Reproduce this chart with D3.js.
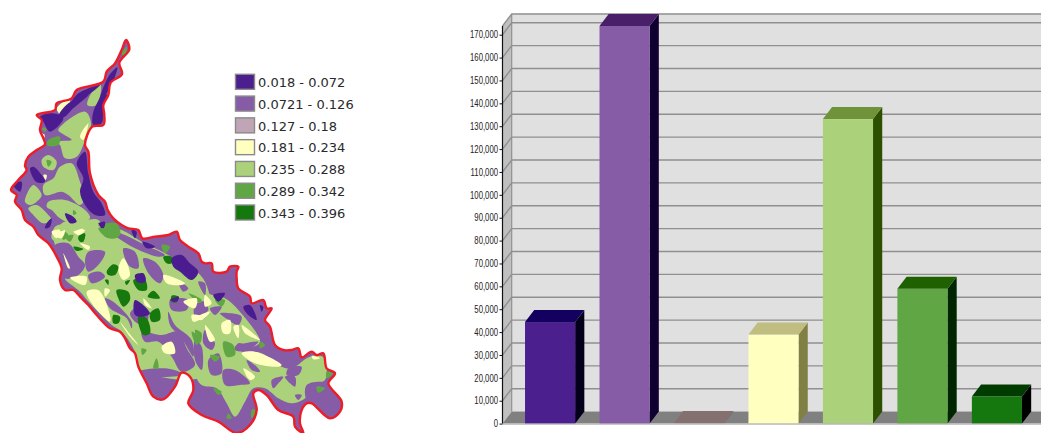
<!DOCTYPE html>
<html>
<head>
<meta charset="utf-8">
<script src="https://cdn.jsdelivr.net/npm/d3@7"></script>
<style>
html,body{margin:0;padding:0;background:#fff;overflow:hidden}
svg{display:block}
.legend-label{font:13px "DejaVu Sans",sans-serif;fill:#2a2a2a}
.tick text{font:10.2px "Liberation Sans",sans-serif;fill:#222}
</style>
</head>
<body>
<svg id="chart" width="1041" height="433"></svg>
<script>
// Index classes and the area mapped in each class
const classLabels = ["0.018 - 0.072","0.0721 - 0.126","0.127 - 0.18","0.181 - 0.234","0.235 - 0.288","0.289 - 0.342","0.343 - 0.396"];
const classAreas = [44400,173800,300,38900,133100,58900,11800];
const classColors = ["#4c1f8f","#875ca6","#bfa5b5","#ffffbf","#abd27a","#61a644","#15780f"];
const barTopColors = ["#14005f","#4a1f6a","#857070","#bfbe80","#6f9338","#1f6000","#003c00"];
const barSideColors = ["#04001b","#0f0030","#6a5a5a","#808045","#2d5000","#002600","#000000"];
const yTicks = [0,10000,20000,30000,40000,50000,60000,70000,80000,90000,100000,110000,120000,130000,140000,150000,160000,170000];
const yAxisTop = 173800;

// Map sheets: each holds 3 units per screen pixel from its own origin
const sheet = (x0, y0) => {
  const sx = d3.scaleLinear().domain([0,3]).range([x0,x0+1]);
  const sy = d3.scaleLinear().domain([0,3]).range([y0,y0+1]);
  return p => [sx(p[0]), sy(p[1])];
};
const sheetTop = sheet(0,30), sheetWest = sheet(5,95), sheetMid = sheet(55,225), sheetEast = sheet(195,270), sheetSouth = sheet(0,220);

// Catchment boundary, clockwise from the northern tip
const boundaryRuns = [
  [sheetTop,[[378,30],[388,58],[358,98],[366,132],[332,158]]],
  [sheetWest,[[310,0],[295,30],[298,60],[295,90],[262,95],[240,150],[250,170],[255,235],[280,300],[300,320],[308,345],[325,370]]],
  [sheetMid,[[200,0],[220,10],[250,15],[262,40],[300,35],[340,30],[365,20],[375,45],[400,65],[430,85],[440,110],[450,115]]],
  [sheetSouth,[[635,130],[640,155],[680,155],[690,140],[715,140],[710,155]]],
  [sheetEast,[[125,25],[130,55],[165,80],[170,100],[205,90],[215,115],[230,115],[210,150],[225,170],[240,225],[265,240],[290,240],[310,235],[320,262],[350,245],[365,255],[385,250],[395,295],[420,310],[400,340],[440,395],[435,425],[405,445],[350,400],[335,400],[320,420],[315,460],[325,489],[300,470],[295,440],[250,420],[215,375],[190,360],[175,370],[185,420],[165,465],[125,489],[70,455],[20,435]]],
  [sheetSouth,[[565,550],[580,510],[570,470],[545,458],[525,500],[490,538],[460,530],[440,490]]],
  [sheetMid,[[250,425],[240,385],[225,370],[210,340],[195,320],[165,310],[125,270],[100,240],[75,215],[55,195],[30,195],[15,165],[20,130],[5,95]]],
  [sheetWest,[[130,445],[100,420],[85,395],[60,375],[50,345],[30,320],[35,300],[18,285],[40,255],[65,225],[60,212],[70,185],[95,165],[120,148],[115,130],[105,105],[110,75],[95,60],[150,45],[155,25],[200,10]]],
  [sheetTop,[[230,180],[310,155],[320,125],[345,100],[365,60]]]
];

// Class polygons, per sheet
const topGreen = [[[280,180],[302,165],[290,225],[262,225]]];
const topMidGreen = [[[365,70],[380,50],[375,80]]];
const topDarkPurple = [
  [[300,200],[325,140],[352,112],[345,140],[320,190],[290,230]],
  [[235,190],[300,165],[250,205],[210,225]]
];
const westGreen = [
  [[160,105],[240,50],[258,85],[235,150],[215,185],[180,190],[165,150],[155,140],[200,135],[175,118]],
  [[110,195],[130,180],[155,200],[145,225],[115,215]],
  [[165,215],[200,205],[225,260],[240,310],[225,330],[190,300],[170,290],[120,300],[115,270],[145,250]],
  [[60,320],[85,270],[110,300],[95,320],[75,330]],
  [[130,320],[180,315],[240,345],[255,370],[200,385],[165,370],[140,345],[125,335]],
  [[70,340],[95,330],[130,360],[140,375],[115,385],[85,360]],
  [[170,385],[240,375],[280,375],[300,420],[250,450],[210,440],[170,420]],
  [[150,400],[190,410],[170,445],[140,430]]
];
const westMidGreen = [
  [[130,135],[165,125],[160,150],[125,150]],
  [[125,195],[140,200],[130,215]],
  [[295,390],[335,385],[345,420],[300,425]],
  [[170,405],[190,420],[175,435]],
  [[205,345],[215,355],[205,360]],
  [[110,100],[125,100],[120,110]]
];
const westYellow = [
  [[155,40],[195,12],[175,65]],
  [[225,125],[250,85],[235,135]],
  [[115,240],[125,240],[122,255]],
  [[105,115],[118,118],[118,128]],
  [[140,410],[165,405],[155,430]],
  [[205,410],[240,405],[225,420]]
];
const westDarkGreen = [[[222,425],[240,420],[235,435],[222,435]]];
const westDarkPurple = [
  [[215,205],[240,170],[250,235],[265,290],[290,325],[300,360],[270,360],[240,330],[225,290],[235,250]],
  [[180,355],[205,365],[215,380],[195,385]],
  [[125,385],[140,370],[135,395],[120,400]],
  [[85,215],[110,240],[120,260],[95,262],[75,220]],
  [[25,270],[50,260],[45,290]],
  [[280,385],[300,380],[295,400]],
  [[105,65],[145,55],[175,70],[135,110],[115,80]],
  [[160,65],[190,25],[250,0],[205,40],[175,68]],
  [[265,50],[295,0],[308,0],[295,40],[290,85],[265,90]]
];
const midGreen = [
  [[0,5],[120,0],[200,15],[260,50],[340,90],[450,170],[450,450],[250,430],[240,380],[200,320],[170,300],[105,235],[75,200],[30,160],[60,150],[0,60]]
];
const midPurple = [
  [[0,60],[40,55],[70,95],[90,120],[70,150],[30,160],[15,110]],
  [[100,80],[150,80],[130,120],[100,140],[90,110]],
  [[205,70],[240,80],[250,130],[225,125],[210,100]],
  [[265,100],[300,110],[325,150],[315,175],[280,145]],
  [[130,0],[210,30],[270,60],[330,90],[310,95],[240,70],[190,40]],
  [[100,150],[135,140],[150,155],[110,175]],
  [[150,220],[175,230],[230,290],[230,310],[215,280],[165,250]],
  [[225,265],[250,245],[280,270],[270,300],[240,290]],
  [[260,320],[320,330],[370,320],[395,370],[420,420],[380,440],[350,395],[310,350],[270,350]],
  [[340,260],[360,300],[410,345],[415,395],[380,340],[345,300]],
  [[345,225],[400,225],[395,255],[350,255]],
  [[420,240],[450,230],[450,280],[420,275]],
  [[430,170],[450,175],[450,210]],
  [[250,440],[330,430],[380,445],[380,450],[250,450]],
  [[370,170],[400,190],[385,200]]
];
const midMidGreen = [
  [[130,10],[185,0],[190,35],[160,40]],
  [[30,35],[55,30],[45,50]],
  [[400,205],[440,225],[435,235]],
  [[410,320],[435,340],[425,360]],
  [[320,60],[345,65],[330,85]],
  [[305,400],[310,430],[295,430]],
  [[260,370],[275,375],[262,390]]
];
const midYellow = [
  [[45,158],[95,155],[90,180]],
  [[95,200],[130,195],[165,270],[165,290],[135,265],[110,235]],
  [[25,85],[45,130],[40,130]],
  [[75,55],[105,65],[100,75]],
  [[190,135],[205,100],[225,150],[205,165]],
  [[325,150],[390,175],[380,180],[335,175]],
  [[385,230],[425,220],[420,250]],
  [[195,290],[235,340],[250,360],[225,335]],
  [[320,365],[350,350],[360,385],[330,385]],
  [[265,220],[290,250],[270,240]],
  [[150,190],[165,195],[150,215]],
  [[0,30],[30,15],[20,40]],
  [[60,20],[85,12],[70,30]],
  [[410,270],[445,275],[415,290]]
];
const midDarkGreen = [
  [[155,140],[175,118],[190,125],[180,150],[160,150]],
  [[235,165],[270,165],[275,195],[250,195]],
  [[185,195],[220,200],[225,225],[205,245],[190,220]],
  [[278,215],[295,197],[315,220]],
  [[350,212],[370,215],[365,232],[350,230]],
  [[285,265],[310,250],[315,285],[290,290]],
  [[250,275],[275,280],[285,325],[265,330]],
  [[175,270],[195,275],[190,295],[175,295]],
  [[70,35],[90,25],[85,50],[75,50]],
  [[55,65],[85,72],[65,78]],
  [[325,95],[350,95],[350,115],[335,115]],
  [[150,165],[160,165],[160,180]],
  [[210,170],[225,165],[215,180]]
];
const midDarkPurple = [
  [[350,100],[380,90],[405,115],[430,140],[410,165],[375,140],[355,125]],
  [[240,225],[285,265],[265,275],[240,270]],
  [[240,150],[265,145],[272,170],[248,172]],
  [[262,50],[300,65],[275,70]],
  [[345,225],[372,215],[365,230]],
  [[135,0],[150,0],[140,10]],
  [[230,15],[245,20],[240,40]]
];
const eastGreen = [
  [[0,30],[40,70],[90,85],[130,120],[195,215],[175,230],[130,220],[120,240],[200,250],[260,290],[290,295],[345,260],[385,262],[390,330],[340,345],[335,380],[290,400],[250,385],[210,355],[175,355],[150,395],[120,440],[95,400],[65,355],[20,345],[0,310]]
];
const eastPurple = [
  [[75,130],[110,130],[140,140],[130,165],[100,150]],
  [[120,230],[190,215],[150,245]],
  [[280,295],[320,290],[310,315],[275,315]],
  [[0,115],[30,100],[40,120],[5,140]],
  [[30,180],[60,220],[50,240],[25,220]],
  [[40,270],[70,250],[80,310],[50,315]],
  [[85,300],[120,300],[165,340],[135,345],[90,345]],
  [[0,210],[20,230],[20,300],[0,270]],
  [[155,270],[185,290],[195,305],[170,300]],
  [[230,330],[265,320],[250,340],[235,355]],
  [[270,320],[300,320],[300,350],[285,340]],
  [[300,375],[320,375],[310,390]],
  [[335,345],[400,340],[440,400],[400,440],[360,395],[335,390]],
  [[45,115],[80,110],[60,135]]
];
const eastMidGreen = [
  [[85,215],[115,225],[120,255],[95,260]],
  [[0,180],[20,190],[15,220]],
  [[45,255],[75,260],[60,275]],
  [[60,90],[90,90],[80,110]],
  [[100,430],[110,445],[95,445]],
  [[55,355],[80,365],[70,375]],
  [[365,350],[390,355],[370,368]],
  [[195,215],[210,225],[195,235]],
  [[395,305],[415,310],[395,325]],
  [[170,420],[185,420],[170,445]]
];
const eastYellow = [
  [[80,160],[105,150],[105,190],[85,190]],
  [[30,165],[60,210],[45,215]],
  [[115,170],[130,165],[130,205]],
  [[140,165],[195,210],[150,190]],
  [[140,250],[180,245],[260,285],[250,290],[180,280]],
  [[145,295],[180,320],[165,330]],
  [[0,145],[45,125],[20,150]],
  [[30,75],[50,100],[30,110]],
  [[350,258],[375,265],[355,268]]
];
const eastDarkPurple = [
  [[55,75],[90,70],[70,95]],
  [[145,110],[165,105],[185,150],[160,135]],
  [[195,105],[205,110],[200,125]]
];

const svg = d3.select("#chart");
const defs = svg.append("defs");
defs.append("filter").attr("id","soft").append("feGaussianBlur").attr("stdDeviation",0.45);

// ---- Map ----
const blob = d3.line().curve(d3.curveCatmullRomClosed.alpha(0.5));
const boundary = boundaryRuns.flatMap(([project,pts]) => pts.map(project));
defs.append("clipPath").attr("id","basin").append("path").attr("d", blob(boundary));

const map = svg.append("g").attr("filter","url(#soft)");
map.append("path").attr("d", blob(boundary)).attr("fill", classColors[1]);
const patches = map.append("g").attr("clip-path","url(#basin)");
const layers = [
  [topGreen,sheetTop,4],[westGreen,sheetWest,4],[midGreen,sheetMid,4],[eastGreen,sheetEast,4],
  [midPurple,sheetMid,1],[eastPurple,sheetEast,1],
  [topMidGreen,sheetTop,5],[westMidGreen,sheetWest,5],[midMidGreen,sheetMid,5],[eastMidGreen,sheetEast,5],
  [westYellow,sheetWest,3],[midYellow,sheetMid,3],[eastYellow,sheetEast,3],
  [westDarkGreen,sheetWest,6],[midDarkGreen,sheetMid,6],
  [topDarkPurple,sheetTop,0],[westDarkPurple,sheetWest,0],[midDarkPurple,sheetMid,0],[eastDarkPurple,sheetEast,0]
];
layers.forEach(([polys,project,cls]) => {
  patches.append("g").selectAll("path").data(polys).join("path")
    .attr("d", d => blob(d.map(project)))
    .attr("fill", classColors[cls]);
});
map.append("path").attr("d", blob(boundary))
  .attr("fill","none").attr("stroke","#ee1c25").attr("stroke-width",2.4).attr("stroke-linejoin","round");

// ---- Legend ----
const legendY = d3.scaleBand().domain(classLabels).range([71.5,224]);
const legend = svg.append("g").selectAll("g").data(classLabels).join("g")
  .attr("transform", d => `translate(235,${legendY(d)})`);
legend.append("rect").attr("x",0.5).attr("y",2.8).attr("width",19).attr("height",15)
  .attr("fill",(d,i)=>classColors[i]).attr("stroke","#8a8a8a").attr("stroke-width",1.4);
legend.append("text").attr("class","legend-label").attr("x",23).attr("y",15.5).text(d=>d);

// ---- 3D column chart ----
const depthX = 9.2, depthY = 12, chartRight = 1041;
const y = d3.scaleLinear().domain([0,170000]).range([423.6,34.7]);
const axisX = 502.5;
const x = d3.scaleBand().domain(classLabels).range([513,1034]).paddingInner(0.327).paddingOuter(0.1614);
const poly = d3.line();
const chart = svg.append("g");

// Left wall, back wall, floor
chart.append("path").attr("fill","#c0c0c0")
  .attr("d", poly([[axisX,y(yAxisTop)],[axisX+depthX,y(yAxisTop)-depthY],[axisX+depthX,y(0)-depthY],[axisX,y(0)]])+"Z");
chart.append("rect").attr("x",axisX+depthX).attr("y",y(yAxisTop)-depthY)
  .attr("width",chartRight-axisX-depthX).attr("height",y(0)-y(yAxisTop)).attr("fill","#e0e0e0");
chart.append("path").attr("fill","#808080")
  .attr("d", poly([[axisX,y(0)],[axisX+depthX,y(0)-depthY],[chartRight,y(0)-depthY],[chartRight,y(0)]])+"Z");

// Grid lines run along the wall and across the back
chart.append("g").selectAll("path").data(yTicks.slice(1).concat(yAxisTop)).join("path")
  .attr("fill","none").attr("stroke","#8f8f8f").attr("stroke-width",1.4)
  .attr("d", v => poly([[axisX,y(v)],[axisX+depthX,y(v)-depthY],[chartRight,y(v)-depthY]]));
chart.append("path").attr("fill","none").attr("stroke","#8f8f8f").attr("stroke-width",1.2)
  .attr("d", poly([[axisX+depthX,y(yAxisTop)-depthY],[axisX+depthX,y(0)-depthY]]));

// Columns
const bars = chart.append("g").selectAll("g").data(classLabels).join("g");
bars.append("path").attr("fill",(d,i)=>barSideColors[i]).attr("d",(d,i)=>{
  const r = x(d)+x.bandwidth(), t = y(classAreas[i]), b = y(0);
  return poly([[r,t],[r+depthX,t-depthY],[r+depthX,b-depthY],[r,b]])+"Z";
});
bars.append("rect").attr("x",d=>x(d)).attr("y",(d,i)=>y(classAreas[i]))
  .attr("width",x.bandwidth()).attr("height",(d,i)=>y(0)-y(classAreas[i]))
  .attr("fill",(d,i)=>classColors[i]);
bars.append("path").attr("fill",(d,i)=>barTopColors[i]).attr("d",(d,i)=>{
  const l = x(d), r = l+x.bandwidth(), t = y(classAreas[i]);
  return poly([[l,t],[l+depthX,t-depthY],[r+depthX,t-depthY],[r,t]])+"Z";
});

// Baseline and value axis; tick labels are set in a condensed width
chart.append("line").attr("x1",axisX).attr("x2",chartRight).attr("y1",y(0)+0.6).attr("y2",y(0)+0.6)
  .attr("stroke","#b4b4b4").attr("stroke-width",1.2);
const axis = chart.append("g").attr("transform",`translate(${axisX},0)`)
  .call(d3.axisLeft(y).tickValues(yTicks).tickFormat(d3.format(",")).tickSize(3).tickPadding(1.5));
axis.select(".domain").attr("stroke","#111").attr("stroke-width",1.2)
  .attr("d", poly([[0,y(yAxisTop)],[0,y(0)]]));
axis.selectAll(".tick line").attr("stroke","#111");
axis.selectAll(".tick text").attr("x",0).attr("transform","translate(-4.5,0) scale(0.76,1)");
</script>
</body>
</html>
